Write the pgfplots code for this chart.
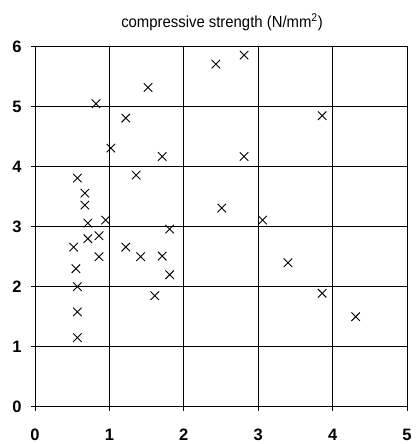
\documentclass[border=0pt]{standalone}
\usepackage{pgfplots}
\pgfplotsset{compat=1.18}
\usepackage{fontspec}
\setmainfont{Liberation Sans}
\newfontfamily\titlefont[FakeStretch=0.93]{Liberation Sans}
\begin{document}
\begin{tikzpicture}
\path[use as bounding box] (-35pt,-37.3pt) rectangle (380pt,406.7pt);
\begin{axis}[
  at={(0,0)}, anchor=south west,
  scale only axis,
  width=372pt, height=360pt,
  xmin=0, xmax=5, ymin=0, ymax=6,
  xtick={0,1,2,3,4,5}, ytick={0,1,2,3,4,5,6},
  grid=major,
  major grid style={black, line width=0.8pt},
  axis line style={black, line width=0.9pt},
  tick align=outside, tick pos=left,
  major tick length=4pt,
  tick style={black, line width=0.8pt},
  /pgf/number format/assume math mode=true,
  ticklabel style={font=\bfseries\fontsize{16.5}{16.5}\selectfont},
  xticklabel style={yshift=-15pt},
  yticklabel style={xshift=-6pt},
  clip=false,
]
\addplot[only marks, mark=x, mark size=6pt, mark options={line width=0.9pt, black}] coordinates {
(0.82,5.05) (1.22,4.81) (1.52,5.32) (2.43,5.71) (2.81,5.86) (3.86,4.85)
(1.02,4.31) (1.71,4.17) (0.57,3.81) (1.36,3.86) (0.67,3.56) (0.67,3.36)
(0.71,3.06) (0.95,3.11) (1.81,2.96) (0.52,2.66) (0.71,2.80) (0.86,2.85)
(0.86,2.50) (1.22,2.66) (1.42,2.50) (1.71,2.51) (1.81,2.20) (0.55,2.30)
(0.57,2.00) (1.61,1.85) (0.57,1.58) (0.57,1.15) (2.81,4.17) (2.51,3.31)
(3.06,3.11) (3.40,2.40) (3.86,1.89) (4.31,1.50)
};
\node[font=\titlefont\fontsize{16}{16}\selectfont, anchor=base, inner sep=0pt] at (rel axis cs:0.5,1) [yshift=19pt, xshift=1pt] {compressive strength (N/mm\textsuperscript{2})};
\end{axis}
\end{tikzpicture}
\end{document}
